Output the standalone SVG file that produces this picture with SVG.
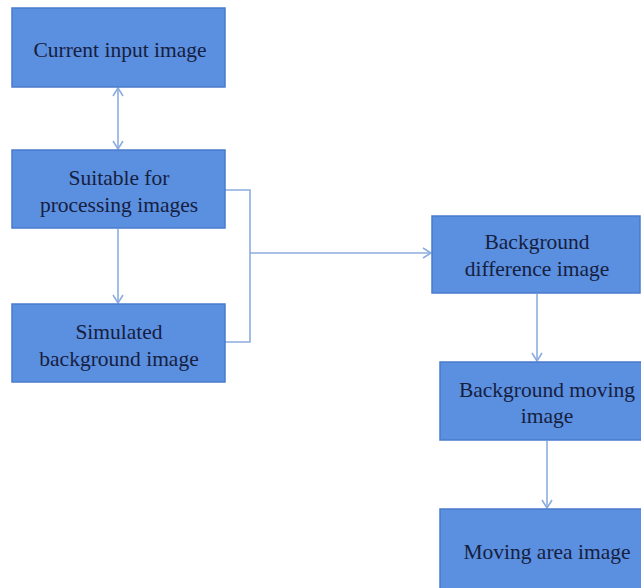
<svg xmlns="http://www.w3.org/2000/svg" width="641" height="588" viewBox="0 0 641 588">
<style>
.box{fill:#5b8fe0;stroke:#4a7bcc;stroke-width:1.5}
.t{font-family:"Liberation Serif","Times New Roman",serif;font-size:21.5px;fill:#16203f;text-anchor:middle}
.c{fill:none;stroke:#8cadde;stroke-width:1.6}
</style>
<defs>
<marker id="ah" viewBox="0 0 12 12" refX="11" refY="6" markerWidth="12" markerHeight="12" markerUnits="userSpaceOnUse" orient="auto-start-reverse">
<polyline points="3,1 11,6 3,11" fill="none" stroke="#8cadde" stroke-width="1.6"/>
</marker>
</defs>
<rect width="641" height="588" fill="#ffffff"/>
<g id="connectors">
<line class="c" x1="118" y1="88" x2="118" y2="149" marker-start="url(#ah)" marker-end="url(#ah)"/>
<line class="c" x1="118" y1="229" x2="118" y2="303" marker-end="url(#ah)"/>
<polyline class="c" points="225,190 250,190 250,342 225,342"/>
<line class="c" x1="250" y1="253" x2="431" y2="253" marker-end="url(#ah)"/>
<line class="c" x1="537" y1="294" x2="537" y2="361" marker-end="url(#ah)"/>
<line class="c" x1="547" y1="441" x2="547" y2="508" marker-end="url(#ah)"/>
</g>
<g id="n1"><rect class="box" x="12" y="8" width="213" height="79"/><text class="t" x="120" y="57">Current input image</text></g>
<g id="n2"><rect class="box" x="12" y="150" width="213" height="78"/><text class="t" x="119" y="185">Suitable for</text><text class="t" x="119" y="212">processing images</text></g>
<g id="n3"><rect class="box" x="12" y="304" width="213" height="78"/><text class="t" x="119" y="339">Simulated</text><text class="t" x="119" y="366">background image</text></g>
<g id="n4"><rect class="box" x="432" y="216" width="208" height="77"/><text class="t" x="537" y="249">Background</text><text class="t" x="537" y="276">difference image</text></g>
<g id="n5"><rect class="box" x="440" y="362" width="214" height="78"/><text class="t" x="547" y="397">Background moving</text><text class="t" x="547" y="423">image</text></g>
<g id="n6"><rect class="box" x="440" y="509" width="214" height="85"/><text class="t" x="547" y="559">Moving area image</text></g>
</svg>
